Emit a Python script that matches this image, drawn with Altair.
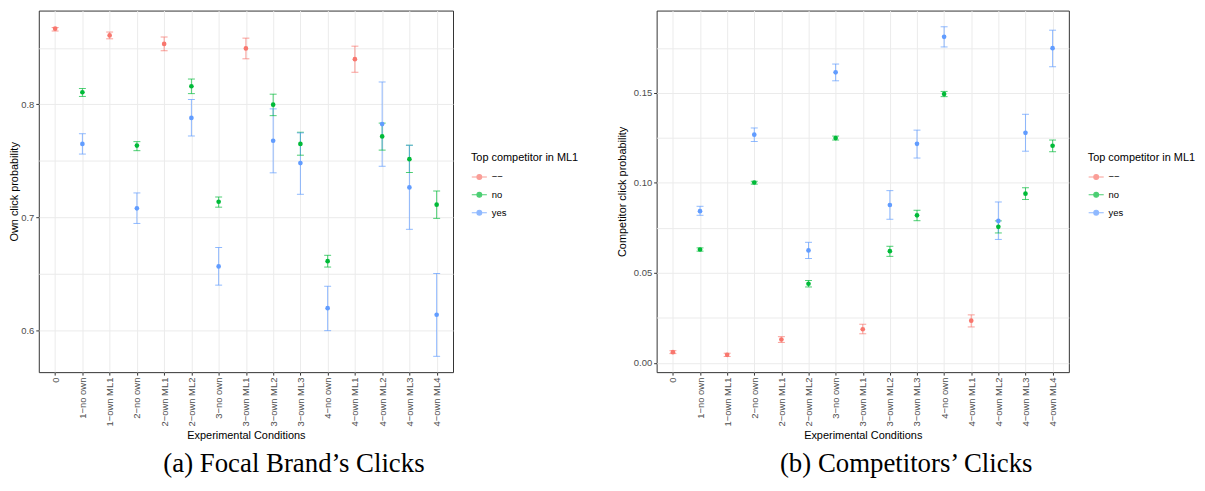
import altair as alt
import pandas as pd

conditions = ["0", "1−no own", "1−own ML1", "2−no own", "2−own ML1", "2−own ML2",
              "3−no own", "3−own ML1", "3−own ML2", "3−own ML3", "4−no own",
              "4−own ML1", "4−own ML2", "4−own ML3", "4−own ML4"]
groups = ["−−", "no", "yes"]
colors = ["#F8766D", "#00BA38", "#619CFF"]

base_conds = ["0", "1−own ML1", "2−own ML1", "3−own ML1", "4−own ML1"]
split_conds = ["1−no own", "2−no own", "2−own ML2", "3−no own", "3−own ML2",
               "3−own ML3", "4−no own", "4−own ML2", "4−own ML3", "4−own ML4"]

# Panel (a): own click probability
own_base = [0.867, 0.861, 0.8535, 0.8495, 0.840]
own_base_lo = [0.865, 0.858, 0.8474, 0.8403, 0.8284]
own_base_hi = [0.868, 0.864, 0.8595, 0.8586, 0.8515]
own_no = [0.8107, 0.7635, 0.816, 0.7138, 0.7997, 0.765, 0.6612, 0.7716, 0.7515, 0.7112]
own_no_lo = [0.807, 0.759, 0.8095, 0.709, 0.790, 0.755, 0.656, 0.7595, 0.7397, 0.6991]
own_no_hi = [0.814, 0.767, 0.8224, 0.718, 0.809, 0.7753, 0.6664, 0.7834, 0.7638, 0.7233]
own_yes = [0.765, 0.708, 0.788, 0.6566, 0.7678, 0.748, 0.6196, 0.7825, 0.7265, 0.6138]
own_yes_lo = [0.756, 0.6946, 0.772, 0.640, 0.7394, 0.7204, 0.5997, 0.7452, 0.6894, 0.577]
own_yes_hi = [0.774, 0.7216, 0.8043, 0.6733, 0.796, 0.7747, 0.639, 0.8198, 0.7638, 0.6503]

# Panel (b): competitor click probability
comp_base = [0.006, 0.0045, 0.013, 0.0187, 0.0235]
comp_base_lo = [0.0052, 0.0036, 0.0114, 0.0162, 0.020]
comp_base_hi = [0.0068, 0.0054, 0.0146, 0.0215, 0.0267]
comp_no = [0.063, 0.1002, 0.044, 0.1249, 0.0621, 0.082, 0.1493, 0.0756, 0.094, 0.1206]
comp_no_lo = [0.0621, 0.0993, 0.0422, 0.1238, 0.0592, 0.079, 0.1479, 0.0722, 0.0908, 0.1173]
comp_no_hi = [0.0639, 0.1009, 0.0458, 0.126, 0.0648, 0.0848, 0.1508, 0.0789, 0.0973, 0.1238]
comp_yes = [0.0843, 0.1268, 0.0625, 0.1614, 0.0877, 0.1217, 0.1811, 0.0789, 0.1278, 0.1748]
comp_yes_lo = [0.082, 0.123, 0.058, 0.1567, 0.0798, 0.1138, 0.1755, 0.0686, 0.1176, 0.1645]
comp_yes_hi = [0.087, 0.1305, 0.067, 0.166, 0.0957, 0.1293, 0.1867, 0.0894, 0.1381, 0.1848]


def build(base, base_lo, base_hi, no, no_lo, no_hi, yes, yes_lo, yes_hi):
    rows = []
    for c, v, l, h in zip(base_conds, base, base_lo, base_hi):
        rows.append(dict(cond=c, grp=groups[0], val=v, lo=l, hi=h))
    for c, v, l, h in zip(split_conds, no, no_lo, no_hi):
        rows.append(dict(cond=c, grp=groups[1], val=v, lo=l, hi=h))
    for c, v, l, h in zip(split_conds, yes, yes_lo, yes_hi):
        rows.append(dict(cond=c, grp=groups[2], val=v, lo=l, hi=h))
    return pd.DataFrame(rows)


df_own = build(own_base, own_base_lo, own_base_hi, own_no, own_no_lo, own_no_hi,
               own_yes, own_yes_lo, own_yes_hi)
df_comp = build(comp_base, comp_base_lo, comp_base_hi, comp_no, comp_no_lo, comp_no_hi,
                comp_yes, comp_yes_lo, comp_yes_hi)

SYMBOL = "M-1,0L1,0M-0.32,0A0.32,0.32,0,1,1,0.32,0A0.32,0.32,0,1,1,-0.32,0Z"


def panel(df, ytitle, domain, ticks, major_mult, fmt, width, height, legend_x, legend_y,
          caption, ytitle_pad):
    major_test = f"abs(datum.value*{major_mult} - round(datum.value*{major_mult})) < 0.001"
    cscale = alt.Scale(domain=groups, range=colors)
    leg = alt.Legend(title="Top competitor in ML1", orient="none", legendX=legend_x,
                     legendY=legend_y, symbolType=SYMBOL, symbolSize=230,
                     symbolStrokeWidth=1.1)
    color = alt.Color("grp:N", scale=cscale, legend=leg)
    x = alt.X("cond:N", sort=conditions,
              scale=alt.Scale(domain=conditions, type="point", padding=0.6),
              axis=alt.Axis(title="Experimental Conditions", labelAngle=270, grid=True,
                            titlePadding=3))
    yaxis = alt.Axis(title=ytitle, values=ticks, format=fmt, grid=True,
                     labelExpr=f"{major_test} ? datum.label : ''",
                     tickColor={"condition": {"test": major_test, "value": "#333333"},
                                "value": "transparent"},
                     titlePadding=ytitle_pad)
    yscale = alt.Scale(domain=domain, nice=False, zero=False)
    base = alt.Chart(df)
    pts = base.mark_point(filled=True, opacity=1, size=22).encode(
        x=x, y=alt.Y("val:Q", scale=yscale, axis=yaxis), color=color)
    rule = base.mark_rule(strokeWidth=1, opacity=0.7).encode(
        x=x, y=alt.Y("lo:Q", scale=yscale, axis=yaxis), y2="hi:Q", color=color)
    tlo = base.mark_tick(thickness=1, size=7, opacity=0.7).encode(
        x=x, y=alt.Y("lo:Q", scale=yscale, axis=yaxis), color=color)
    thi = base.mark_tick(thickness=1, size=7, opacity=0.7).encode(
        x=x, y=alt.Y("hi:Q", scale=yscale, axis=yaxis), color=color)
    return alt.layer(rule, tlo, thi, pts).properties(
        width=width, height=height,
        title=alt.Title(caption, orient="bottom", font="Liberation Serif", fontSize=27,
                        fontWeight="normal", color="black", offset=11, anchor="middle",
                        frame="bounds"))


pa = panel(df_own, "Own click probability", [0.563, 0.883],
           [0.6, 0.65, 0.7, 0.75, 0.8, 0.85], 10, ".1f", 417, 364, 435, 142,
           "(a) Focal Brand’s Clicks", 1)
pb = panel(df_comp, "Competitor click probability", [-0.0051, 0.1957],
           [0.0, 0.025, 0.05, 0.075, 0.1, 0.125, 0.15, 0.175], 20, ".2f", 415, 364, 434, 142,
           "(b) Competitors’ Clicks", 6)

chart = alt.hconcat(pa, pb, spacing=36).resolve_scale(
    color="independent", x="independent", y="independent"
).resolve_legend(color="independent").properties(
    padding={"left": 0, "top": 0, "right": 0, "bottom": 0}
).configure_view(stroke="#333333", strokeWidth=1).configure_axis(
    labelFont="Liberation Sans", labelFontSize=9.5, labelColor="#4D4D4D",
    tickColor="#333333", tickSize=3, domain=False, labelPadding=2,
    titleFont="Liberation Sans", titleFontSize=11, titleFontWeight="normal", titleColor="black",
    gridColor="#EBEBEB", gridWidth=1
).configure_legend(
    titleFont="Liberation Sans", titleFontSize=11, titleFontWeight="normal", titleColor="black",
    labelFont="Liberation Sans", labelFontSize=9.5, labelColor="black", rowPadding=4,
    titlePadding=6
)

chart.save("out.html", embed_options={"renderer": "svg", "actions": False})
